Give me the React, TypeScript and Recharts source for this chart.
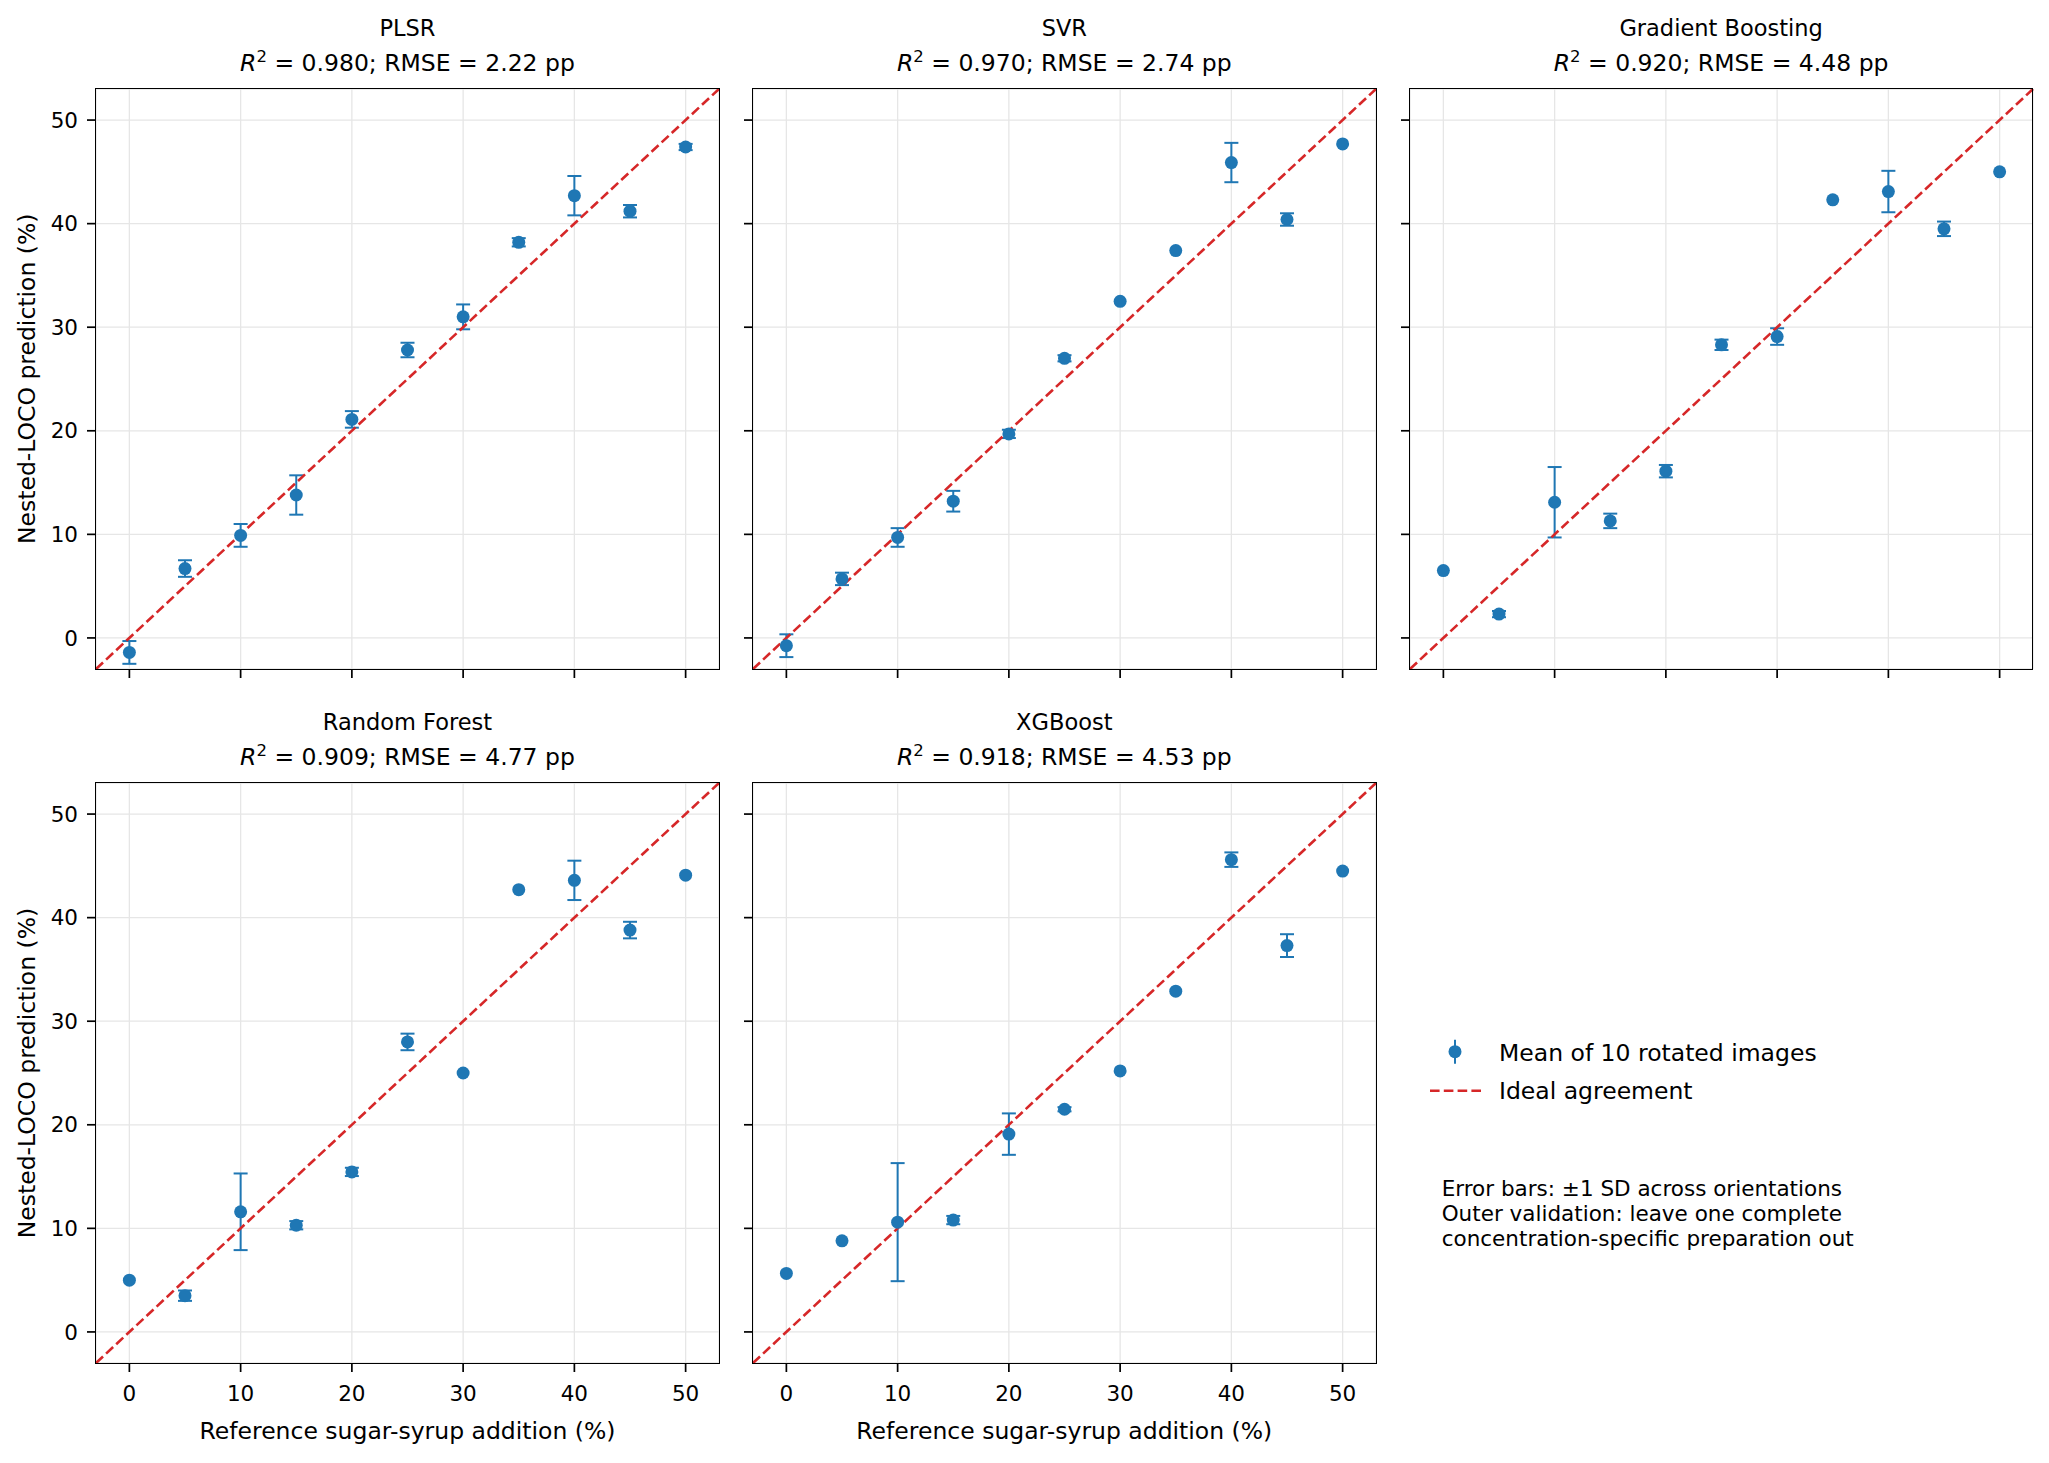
import { ScatterChart, Scatter, XAxis, YAxis, CartesianGrid, ErrorBar, ReferenceLine } from 'recharts';

const refAddition = [0, 5, 10, 15, 20, 25, 30, 35, 40, 45, 50];

const plsrMean = [-1.4, 6.7, 9.9, 13.8, 21.1, 27.8, 31.0, 38.2, 42.7, 41.2, 47.4];
const plsrSd = [1.1, 0.8, 1.1, 1.9, 0.8, 0.7, 1.2, 0.4, 1.9, 0.6, 0.3];
const svrMean = [-0.75, 5.7, 9.7, 13.2, 19.7, 27.0, 32.5, 37.4, 45.9, 40.4, 47.7];
const svrSd = [1.1, 0.6, 0.9, 1.0, 0.4, 0.3, 0, 0, 1.9, 0.6, 0];
const gbMean = [6.5, 2.3, 13.1, 11.3, 16.1, 28.3, 29.1, 42.3, 43.1, 39.5, 45.0];
const gbSd = [0, 0.3, 3.4, 0.7, 0.6, 0.5, 0.8, 0, 2.0, 0.7, 0];
const rfMean = [5.0, 3.5, 11.6, 10.3, 15.45, 28.0, 25.0, 42.7, 43.6, 38.8, 44.1];
const rfSd = [0, 0.5, 3.7, 0.4, 0.4, 0.8, 0, 0, 1.9, 0.8, 0];
const xgbMean = [5.65, 8.8, 10.6, 10.8, 19.1, 21.5, 25.2, 32.9, 45.6, 37.3, 44.5];
const xgbSd = [0, 0, 5.7, 0.4, 2.0, 0.2, 0, 0, 0.7, 1.1, 0];

const axisTicks = [0, 10, 20, 30, 40, 50];
const axisDomain = [-3, 53];

const BLUE = '#1f77b4';
const RED = '#d62728';
const FONT = 'DejaVu Sans';

const PLOT_W = 623;
const PLOT_H = 580;
const COL_LEFT = [96, 752.8, 1409.6];
const ROW_TOP = [88.8, 783];

interface PanelDef {
  name: string;
  r2: string;
  rmse: string;
  mean: number[];
  sd: number[];
  col: number;
  row: number;
}

const panels: PanelDef[] = [
  { name: 'PLSR', r2: '0.980', rmse: '2.22', mean: plsrMean, sd: plsrSd, col: 0, row: 0 },
  { name: 'SVR', r2: '0.970', rmse: '2.74', mean: svrMean, sd: svrSd, col: 1, row: 0 },
  { name: 'Gradient Boosting', r2: '0.920', rmse: '4.48', mean: gbMean, sd: gbSd, col: 2, row: 0 },
  { name: 'Random Forest', r2: '0.909', rmse: '4.77', mean: rfMean, sd: rfSd, col: 0, row: 1 },
  { name: 'XGBoost', r2: '0.918', rmse: '4.53', mean: xgbMean, sd: xgbSd, col: 1, row: 1 },
];

function Dot(props: any) {
  if (props.cx == null || props.cy == null) return null;
  return <circle cx={props.cx} cy={props.cy} r={6.5} fill={BLUE} />;
}

// shared axes: keep the tick marks, drop the label
const NoLabel = () => <g />;

function Panel({ p }: { p: PanelDef }) {
  const rows = refAddition.map((x, i) => ({ x, y: p.mean[i], sd: p.sd[i] }));
  const showX = p.row === 1;
  const showY = p.col === 0;
  const left = COL_LEFT[p.col];
  const top = ROW_TOP[p.row];
  const xH = showX ? 50 : 20;
  const tickStyle = { fontFamily: FONT, fontSize: 21.5, fill: '#000' };

  return (
    <>
      <div style={{ position: 'absolute', left: left - 60, top: top - 10 }}>
        <ScatterChart
          width={60 + PLOT_W + 10}
          height={10 + PLOT_H + xH}
          margin={{ top: 10, right: 10, left: 0, bottom: 0 }}
        >
          <CartesianGrid stroke="#e6e6e6" strokeWidth={1.3} />
          <XAxis
            type="number"
            dataKey="x"
            domain={axisDomain}
            ticks={axisTicks}
            allowDataOverflow
            height={xH}
            axisLine={false}
            tickLine={{ stroke: '#000', strokeWidth: 1.7 }}
            tickSize={9}
            tickMargin={14}
            tick={showX ? tickStyle : NoLabel}
          />
          <YAxis
            type="number"
            dataKey="y"
            domain={axisDomain}
            ticks={axisTicks}
            allowDataOverflow
            width={60}
            axisLine={false}
            tickLine={{ stroke: '#000', strokeWidth: 1.7 }}
            tickSize={9}
            tickMargin={9}
            tick={showY ? tickStyle : NoLabel}
          />
          <Scatter data={rows} shape={Dot} isAnimationActive={false}>
            <ErrorBar dataKey="sd" direction="y" width={7} stroke={BLUE} strokeWidth={2} isAnimationActive={false} />
          </Scatter>
          <ReferenceLine
            segment={[{ x: -3, y: -3 }, { x: 53, y: 53 }]}
            stroke={RED}
            strokeWidth={2.6}
            strokeDasharray="9.6 4.2"
            ifOverflow="visible"
          />
        </ScatterChart>
      </div>
      <div
        style={{
          position: 'absolute',
          left: left - 0.9,
          top: top - 0.9,
          width: PLOT_W + 1.8,
          height: PLOT_H + 1.8,
          border: '1.8px solid #000',
          boxSizing: 'border-box',
          pointerEvents: 'none',
        }}
      />
    </>
  );
}

function Labels() {
  const cx = (col: number) => COL_LEFT[col] + PLOT_W / 2;
  const cy = (row: number) => ROW_TOP[row] + PLOT_H / 2;
  return (
    <svg
      width={2049}
      height={1463}
      style={{ position: 'absolute', left: 0, top: 0, pointerEvents: 'none' }}
      fontFamily={FONT}
      fill="#000"
    >
      {panels.map((p) => {
        const x = cx(p.col);
        const base = ROW_TOP[p.row] - 88.8;
        return (
          <g key={p.name}>
            <text x={x} y={base + 36} fontSize={22.5} textAnchor="middle">
              {p.name}
            </text>
            <text x={x} y={base + 71} fontSize={23.5} textAnchor="middle">
              <tspan fontStyle="italic">R</tspan>
              <tspan fontSize={16.5} dy={-9.5}>2</tspan>
              <tspan dy={9.5}>{` = ${p.r2}; RMSE = ${p.rmse} pp`}</tspan>
            </text>
          </g>
        );
      })}
      {[0, 1].map((row) => (
        <text
          key={`yl-${row}`}
          transform={`translate(35, ${cy(row)}) rotate(-90)`}
          fontSize={23.5}
          textAnchor="middle"
        >
          Nested-LOCO prediction (%)
        </text>
      ))}
      {[0, 1].map((col) => (
        <text key={`xl-${col}`} x={cx(col)} y={1438.7} fontSize={23.5} textAnchor="middle">
          Reference sugar-syrup addition (%)
        </text>
      ))}
      <line x1={1455} y1={1039.7} x2={1455} y2={1063.7} stroke={BLUE} strokeWidth={2} />
      <circle cx={1455} cy={1051.7} r={6.5} fill={BLUE} />
      <text x={1499} y={1060.7} fontSize={23.5}>Mean of 10 rotated images</text>
      <line x1={1430} y1={1090.7} x2={1481} y2={1090.7} stroke={RED} strokeWidth={2.6} strokeDasharray="9.6 4.2" />
      <text x={1499} y={1099.3} fontSize={23.5}>Ideal agreement</text>
      <text x={1441.7} y={1195.7} fontSize={21.5}>Error bars: ±1 SD across orientations</text>
      <text x={1441.7} y={1220.7} fontSize={21.5}>Outer validation: leave one complete</text>
      <text x={1441.7} y={1245.7} fontSize={21.5}>concentration-specific preparation out</text>
    </svg>
  );
}

export default function App() {
  return (
    <div style={{ position: 'absolute', left: 0, top: 0, width: 2049, height: 1463, background: '#fff' }}>
      {panels.map((p) => (
        <Panel key={p.name} p={p} />
      ))}
      <Labels />
    </div>
  );
}
